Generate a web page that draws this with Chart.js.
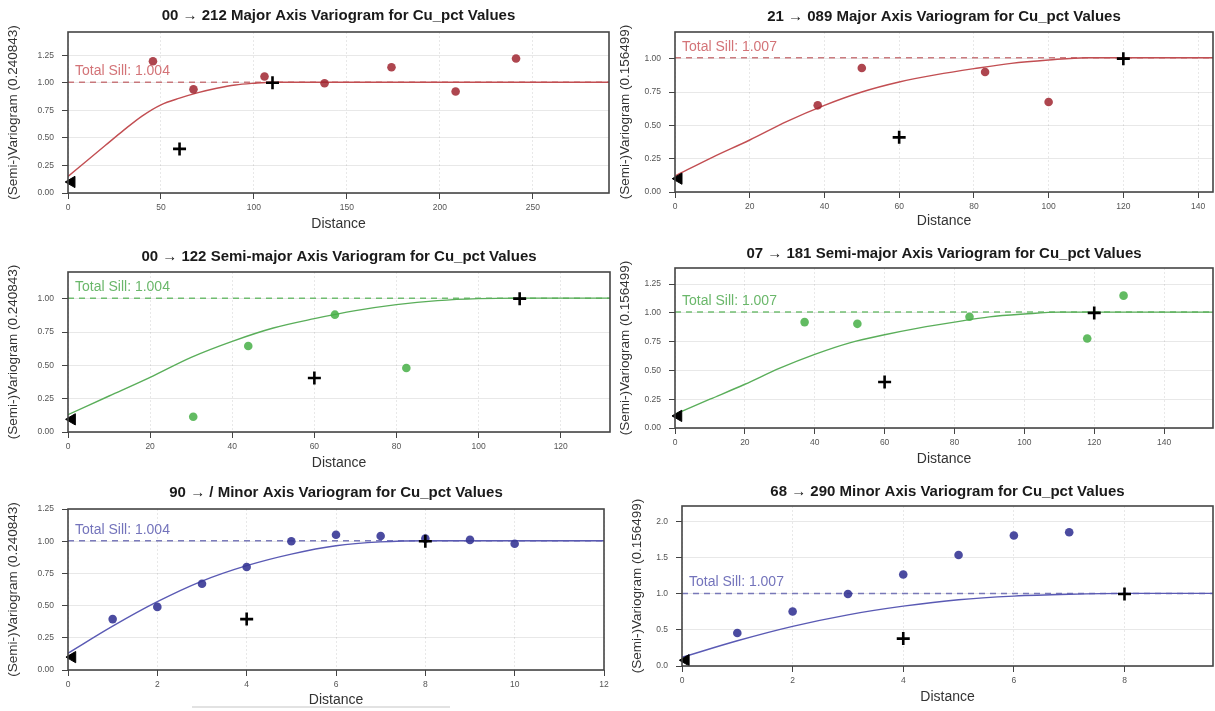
<!DOCTYPE html>
<html>
<head>
<meta charset="utf-8">
<script src="https://cdn.jsdelivr.net/npm/chart.js@4.4.1/dist/chart.umd.min.js"></script>
<style>
  html, body { margin: 0; padding: 0; background: #fff; }
  body { position: relative; width: 1215px; height: 711px; overflow: hidden; }
  .panel { position: absolute; }
  .panel canvas { display: block; }
  .strip { position: absolute; left: 192px; top: 706px; width: 258px; height: 2px; background: #e2e2e2; }
</style>
</head>
<body>
<div class="strip"></div>
<script>
// ---------- titles ----------
const titles = [
  '00 \u2192 212 Major Axis Variogram for Cu_pct Values',
  '21 \u2192 089 Major Axis Variogram for Cu_pct Values',
  '00 \u2192 122 Semi-major Axis Variogram for Cu_pct Values',
  '07 \u2192 181 Semi-major Axis Variogram for Cu_pct Values',
  '90 \u2192 / Minor Axis Variogram for Cu_pct Values',
  '68 \u2192 290 Minor Axis Variogram for Cu_pct Values'
];
const yTitles = [
  '(Semi-)Variogram (0.240843)', '(Semi-)Variogram (0.156499)',
  '(Semi-)Variogram (0.240843)', '(Semi-)Variogram (0.156499)',
  '(Semi-)Variogram (0.240843)', '(Semi-)Variogram (0.156499)'
];
const sills = [1.004, 1.007, 1.004, 1.007, 1.004, 1.007];

// ---------- experimental variogram points ----------
const lag1 = [45.7, 67.5, 105.7, 138, 174, 208.5, 241];
const gam1 = [1.195, 0.94, 1.057, 0.995, 1.14, 0.92, 1.22];
const lag2 = [38.2, 50, 83, 100];
const gam2 = [0.65, 0.93, 0.90, 0.675];
const lag3 = [30.5, 43.9, 65, 82.4];
const gam3 = [0.114, 0.645, 0.88, 0.48];
const lag4 = [37.1, 52.2, 84.3, 118, 128.4];
const gam4 = [0.92, 0.905, 0.967, 0.777, 1.15];
const lag5 = [1, 2, 3, 4, 5, 6, 7, 8, 9, 10];
const gam5 = [0.395, 0.49, 0.67, 0.80, 1.0, 1.05, 1.04, 1.02, 1.01, 0.98];
const lag6 = [1, 2, 3, 4, 5, 6, 7];
const gam6 = [0.458, 0.757, 1.0, 1.27, 1.54, 1.81, 1.855];

// ---------- fitted model curves ----------
const mLag1 = [0, 10, 20, 30, 40, 50, 60, 70, 80, 90, 100, 110, 291];
const mGam1 = [0.15, 0.29, 0.43, 0.57, 0.70, 0.80, 0.86, 0.91, 0.95, 0.98, 0.995, 1.004, 1.004];
const mLag2 = [0, 10, 20, 30, 40, 50, 60, 70, 80, 90, 100, 110, 144];
const mGam2 = [0.12, 0.26, 0.39, 0.53, 0.65, 0.75, 0.825, 0.88, 0.925, 0.965, 0.99, 1.007, 1.007];
const mLag3 = [0, 10, 20, 30, 40, 50, 60, 70, 80, 90, 100, 110, 132];
const mGam3 = [0.13, 0.27, 0.41, 0.56, 0.68, 0.78, 0.85, 0.91, 0.955, 0.985, 1.0, 1.004, 1.004];
const mLag4 = [0, 10, 20, 30, 40, 50, 60, 70, 80, 90, 100, 110, 154];
const mGam4 = [0.12, 0.25, 0.38, 0.52, 0.64, 0.74, 0.81, 0.87, 0.92, 0.965, 0.99, 1.007, 1.007];
const mLag5 = [0, 1, 2, 3, 4, 5, 6, 7, 8, 12];
const mGam5 = [0.13, 0.34, 0.53, 0.69, 0.81, 0.90, 0.965, 0.995, 1.004, 1.004];
const mLag6 = [0, 1, 2, 3, 4, 5, 6, 7, 8, 9.6];
const mGam6 = [0.12, 0.35, 0.55, 0.71, 0.83, 0.92, 0.97, 0.995, 1.007, 1.007];

// ---------- reference markers: crosses and nugget triangle ----------
const crossLag1 = [60, 110],  crossGam1 = [0.40, 1.0];
const crossLag2 = [60, 120],  crossGam2 = [0.41, 1.0];
const crossLag3 = [60, 110],  crossGam3 = [0.405, 1.0];
const crossLag4 = [60, 120],  crossGam4 = [0.40, 1.0];
const crossLag5 = [4, 8],     crossGam5 = [0.395, 1.0];
const crossLag6 = [4, 8],     crossGam6 = [0.38, 1.0];
const nugLag = [2, 1, 1, 1, 0.1, 0.07];
const nugGam = [0.10, 0.10, 0.095, 0.105, 0.10, 0.08];

// ---------- axes ----------
const xTicks1 = [0, 50, 100, 150, 200, 250];
const xTicks2 = [0, 20, 40, 60, 80, 100, 120, 140];
const xTicks3 = [0, 20, 40, 60, 80, 100, 120];
const xTicks4 = [0, 20, 40, 60, 80, 100, 120, 140];
const xTicks5 = [0, 2, 4, 6, 8, 10, 12];
const xTicks6 = [0, 2, 4, 6, 8];
const yTicksA = [0, 0.25, 0.5, 0.75, 1.0, 1.25];
const yTicksB = [0, 0.25, 0.5, 0.75, 1.0];
const yTicksC = [0, 0.5, 1.0, 1.5, 2.0];
const xMaxes = [291, 144, 132, 154, 12, 9.6];
const yMaxes = [1.46, 1.2, 1.2, 1.39, 1.25, 2.22];
const yDigits = [2, 2, 2, 2, 2, 1];

const FONT = "'Liberation Sans', Arial, sans-serif";
const TITLE_PX = 15, SILL_PX = 14, XTITLE_PX = 14, YTITLE_PX = 13.5, TICK_PX = 8.5;

const palettes = {
  red:   { pt: 'rgba(160,38,48,0.85)',  line: '#c24e52', sill: 'rgba(190,90,95,0.8)',  text: 'rgba(200,80,85,0.8)' },
  green: { pt: 'rgba(70,175,70,0.85)',  line: '#5aae5a', sill: 'rgba(90,180,90,0.85)', text: 'rgba(80,170,80,0.85)' },
  blue:  { pt: 'rgba(55,55,150,0.9)',   line: '#5a5ab4', sill: 'rgba(100,100,175,0.85)', text: 'rgba(90,90,175,0.85)' }
};

// plot area boxes on the page
const boxes = [
  { L: 68,  T: 32,  R: 609,  B: 193, titleY: 16,  xTitleY: 224, yTitleX: 13 },
  { L: 675, T: 32,  R: 1213, B: 192, titleY: 17,  xTitleY: 221, yTitleX: 625 },
  { L: 68,  T: 272, R: 610,  B: 432, titleY: 257, xTitleY: 463, yTitleX: 13 },
  { L: 675, T: 268, R: 1213, B: 428, titleY: 254, xTitleY: 459, yTitleX: 625 },
  { L: 68,  T: 509, R: 604,  B: 670, titleY: 493, xTitleY: 700, yTitleX: 13 },
  { L: 682, T: 506, R: 1213, B: 666, titleY: 492, xTitleY: 697, yTitleX: 637 }
];

const panels = [
  { lag: lag1, gam: gam1, mLag: mLag1, mGam: mGam1, cLag: crossLag1, cGam: crossGam1, xTicks: xTicks1, yTicks: yTicksA, pal: 'red' },
  { lag: lag2, gam: gam2, mLag: mLag2, mGam: mGam2, cLag: crossLag2, cGam: crossGam2, xTicks: xTicks2, yTicks: yTicksB, pal: 'red' },
  { lag: lag3, gam: gam3, mLag: mLag3, mGam: mGam3, cLag: crossLag3, cGam: crossGam3, xTicks: xTicks3, yTicks: yTicksB, pal: 'green' },
  { lag: lag4, gam: gam4, mLag: mLag4, mGam: mGam4, cLag: crossLag4, cGam: crossGam4, xTicks: xTicks4, yTicks: yTicksA, pal: 'green' },
  { lag: lag5, gam: gam5, mLag: mLag5, mGam: mGam5, cLag: crossLag5, cGam: crossGam5, xTicks: xTicks5, yTicks: yTicksA, pal: 'blue' },
  { lag: lag6, gam: gam6, mLag: mLag6, mGam: mGam6, cLag: crossLag6, cGam: crossGam6, xTicks: xTicks6, yTicks: yTicksC, pal: 'blue' }
];

const pairs = (xs, ys) => xs.map((x, i) => ({ x: x, y: ys[i] }));

// frame, title and sill label drawn around the plot area
const decor = {
  id: 'decor',
  afterDraw(chart, args, o) {
    const { ctx, chartArea: a, scales } = chart;
    ctx.save();
    ctx.strokeStyle = '#454545';
    ctx.lineWidth = 1.6;
    ctx.strokeRect(a.left, a.top, a.right - a.left, a.bottom - a.top);

    ctx.fillStyle = '#1a1a1a';
    ctx.font = 'bold ' + TITLE_PX + 'px ' + FONT;
    ctx.textAlign = 'center';
    ctx.textBaseline = 'middle';
    ctx.fillText(o.title, (a.left + a.right) / 2, o.titleY);

    ctx.fillStyle = o.sillColor;
    ctx.font = SILL_PX + 'px ' + FONT;
    ctx.textAlign = 'left';
    ctx.fillText('Total Sill: ' + o.sill.toFixed(3), scales.x.getPixelForValue(0) + 7,
                 scales.y.getPixelForValue(o.sill) - 11);
    ctx.restore();
  }
};

panels.forEach((p, i) => {
  const b = boxes[i];
  const pal = palettes[p.pal];
  const x0 = b.yTitleX - 9;
  const y0 = b.titleY - 12;
  const x1 = b.R + 10;
  const y1 = b.xTitleY + 11;
  const W = x1 - x0, H = y1 - y0;
  const yTitleLH = YTITLE_PX * 1.2, xTitleLH = XTITLE_PX * 1.2;
  const padL = b.yTitleX - yTitleLH / 2 - x0;
  const padT = b.T - y0;
  const padR = x1 - b.R;
  const padB = y1 - (b.xTitleY + xTitleLH / 2);
  const yW = b.L - x0 - padL;
  const xH = (b.xTitleY + xTitleLH / 2) - b.B;

  const div = document.createElement('div');
  div.className = 'panel';
  div.style.left = x0 + 'px';
  div.style.top = y0 + 'px';
  const cv = document.createElement('canvas');
  cv.width = W; cv.height = H;
  cv.style.width = W + 'px'; cv.style.height = H + 'px';
  div.appendChild(cv);
  document.body.appendChild(div);

  const sill = sills[i];
  const xMax = xMaxes[i];

  new Chart(cv, {
    type: 'scatter',
    data: {
      datasets: [
        { // nugget marker
          data: pairs([nugLag[i]], [nugGam[i]]),
          pointStyle: 'triangle', rotation: -90, pointRadius: 6.5,
          backgroundColor: '#000', borderColor: '#000', borderWidth: 1,
          clip: false, order: 1
        },
        { // range markers
          data: pairs(p.cLag, p.cGam),
          pointStyle: 'cross', pointRadius: 6.5,
          borderColor: '#000', backgroundColor: '#000', borderWidth: 2.6,
          clip: false, order: 1
        },
        { // experimental points
          data: pairs(p.lag, p.gam),
          pointStyle: 'circle', pointRadius: 4.3,
          backgroundColor: pal.pt, borderColor: pal.pt, borderWidth: 0,
          clip: false, order: 2
        },
        { // fitted model
          data: pairs(p.mLag, p.mGam),
          showLine: true, pointRadius: 0, borderColor: pal.line, borderWidth: 1.4,
          cubicInterpolationMode: 'monotone', order: 3
        },
        { // total sill
          data: pairs([0, xMax], [sill, sill]),
          showLine: true, pointRadius: 0, borderColor: pal.sill, borderWidth: 1.5,
          borderDash: [6, 5], order: 4
        }
      ]
    },
    options: {
      animation: false,
      responsive: false,
      devicePixelRatio: 1,
      events: [],
      layout: { padding: { left: padL, top: padT, right: padR, bottom: padB } },
      plugins: {
        legend: { display: false },
        tooltip: { enabled: false },
        title: { display: false },
        decor: { title: titles[i], titleY: b.titleY - y0, sill: sill, sillColor: pal.text }
      },
      scales: {
        x: {
          type: 'linear', min: 0, max: xMax,
          afterBuildTicks: s => { s.ticks = p.xTicks.map(v => ({ value: v })); },
          afterFit: s => { s.height = xH; },
          ticks: { font: { size: TICK_PX, family: FONT }, color: '#555', padding: 4, maxRotation: 0,
                   callback: v => String(v) },
          grid: { color: 'rgba(0,0,0,0.09)', tickLength: 6, tickColor: '#444', tickWidth: 1 },
          border: { display: false, dash: [2, 2] },
          title: { display: true, text: 'Distance', color: '#333', padding: 0,
                   font: { size: XTITLE_PX, family: FONT } }
        },
        y: {
          type: 'linear', min: 0, max: yMaxes[i],
          afterBuildTicks: s => { s.ticks = p.yTicks.map(v => ({ value: v })); },
          afterFit: s => { s.width = yW; },
          ticks: { font: { size: TICK_PX, family: FONT }, color: '#555', padding: 8,
                   callback: v => Number(v).toFixed(yDigits[i]) },
          grid: { color: 'rgba(0,0,0,0.09)', tickLength: 6, tickColor: '#444', tickWidth: 1 },
          border: { display: false },
          title: { display: true, text: yTitles[i], color: '#333', padding: 0,
                   font: { size: YTITLE_PX, family: FONT } }
        }
      }
    },
    plugins: [decor]
  });
});
</script>
</body>
</html>
